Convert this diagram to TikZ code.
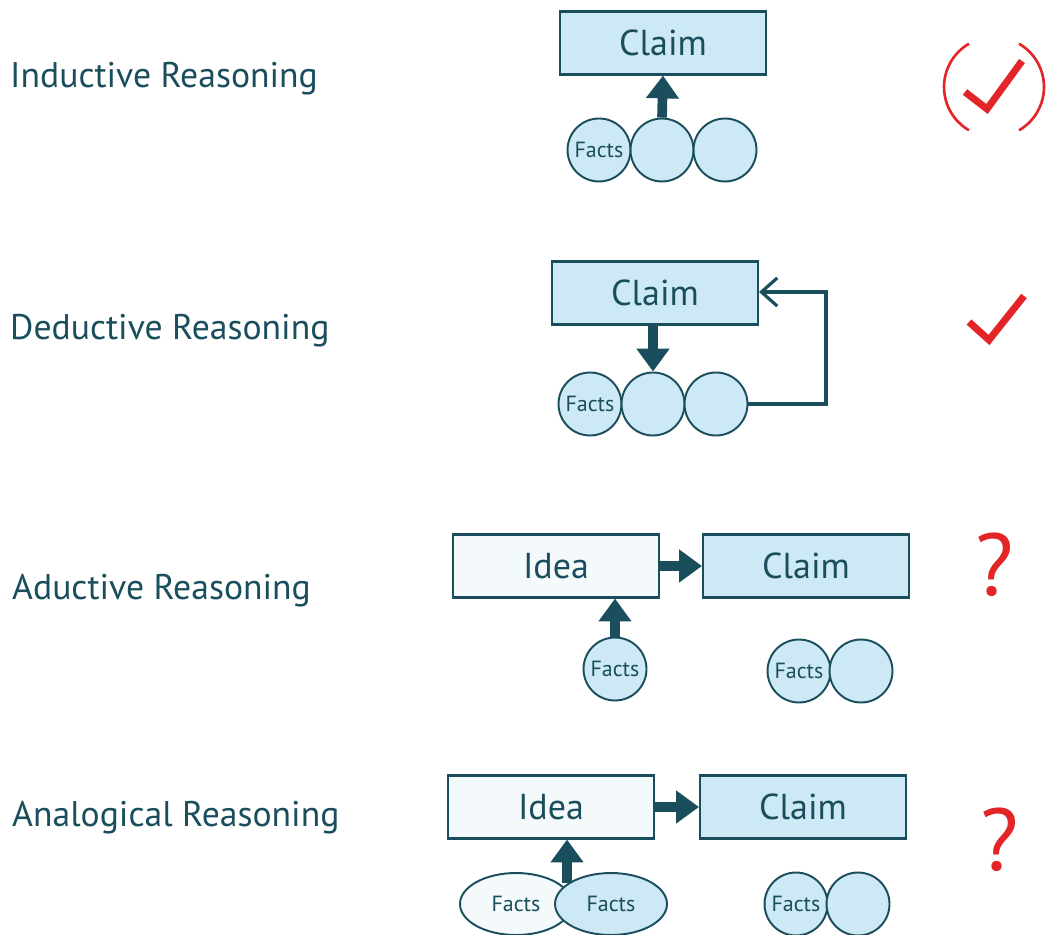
\documentclass[tikz,border=0pt]{standalone}
\usepackage{fontspec}
\setmainfont{PT Sans}
\usepackage{tikz}
\usetikzlibrary{arrows.meta,shapes.geometric}
\definecolor{ink}{HTML}{1A4E5C}
\definecolor{pale}{HTML}{CDE9F5}
\definecolor{paler}{HTML}{F4FAFC}
\definecolor{tickred}{HTML}{E42528}
\tikzset{
  lbl/.style={anchor=west,text=ink,font=\fontsize{20.3}{22}\selectfont},
  box/.style={draw=ink,line width=1.2pt,fill=pale,text=ink,minimum width=4.12cm,minimum height=1.26cm,inner sep=0pt,font=\fontsize{20.5}{22}\selectfont},
  ideabox/.style={box,fill=paler},
  fact/.style={circle,draw=ink,line width=1.1pt,fill=pale,text=ink,minimum size=1.26cm,inner sep=0pt,font=\fontsize{12.5}{14}\selectfont},
  oval/.style={ellipse,draw=ink,line width=1.1pt,fill=pale,text=ink,minimum width=2.24cm,minimum height=1.24cm,inner sep=0pt,font=\fontsize{12.5}{14}\selectfont},
  fat/.style={ink,line width=5.5pt,-{Triangle[length=13pt,width=18pt]}},
  loopback/.style={ink,line width=1.8pt,-{Straight Barb[length=9pt,width=16pt,line width=1.8pt]}},
  tick/.style={tickred,line width=4pt},
  query/.style={text=tickred,font=\fontsize{50}{54}\selectfont}
}
\begin{document}
\begin{tikzpicture}[x=0.02cm,y=-0.02cm]
  \useasboundingbox[fill=white] (0,0) rectangle (1050,935);

  \node[lbl] (ind) at (4,79) {Inductive Reasoning};
  \node[box] (claimA) at (663,43) {Claim};
  \node[fact] (fA1) at (599,150) {Facts};
  \node[fact] (fA2) at (662,150) {};
  \node[fact] (fA3) at (725,150) {};
  \draw[fat] (fA2.north) -- (claimA.south);
  \draw[tickred,line width=1.5pt] (994,87) ++(120:50) arc (120:240:50);
  \draw[tickred,line width=1.5pt] (994,87) ++(-60:50) arc (-60:60:50);
  \draw[tick] (965,92) -- (987,109) -- (1022,61);

  \node[lbl] (ded) at (4,331) {Deductive Reasoning};
  \node[box] (claimB) at (655,293) {Claim};
  \node[fact] (fB1) at (590,404) {Facts};
  \node[fact] (fB2) at (653,404) {};
  \node[fact] (fB3) at (716,404) {};
  \draw[fat] (claimB.south -| fB2) -- (fB2.north);
  \coordinate (turnB) at (826,292);
  \draw[loopback] (fB3.east) -| (turnB) -- (claimB.east |- turnB);
  \draw[tick] (969,322) -- (989,340) -- (1024,296);

  \node[lbl] (adu) at (6,591) {Aductive Reasoning};
  \node[ideabox] (ideaC) at (556,566) {Idea};
  \node[box] (claimC) at (806,566) {Claim};
  \node[fact] (fC0) at (615,669) {Facts};
  \node[fact] (fC1) at (799,671) {Facts};
  \node[fact] (fC2) at (861,671) {};
  \draw[fat] (ideaC.east) -- (claimC.west);
  \draw[fat] (fC0.north) -- (fC0 |- ideaC.south);
  \node[query] (qC) at (995,565) {?};

  \node[lbl] (ana) at (6,818) {Analogical Reasoning};
  \node[ideabox] (ideaD) at (551,807) {Idea};
  \node[box] (claimD) at (803,807) {Claim};
  \node[oval,fill=paler] (oD1) at (516,904) {Facts};
  \node[oval] (oD2) at (611,904) {Facts};
  \node[fact] (fD1) at (796,904) {Facts};
  \node[fact] (fD2) at (858,904) {};
  \coordinate (meetD) at (567,883);
  \draw[fat] (ideaD.east) -- (claimD.west);
  \draw[fat] (meetD) -- (meetD |- ideaD.south);
  \node[query] (qD) at (1000,840) {?};
\end{tikzpicture}
\end{document}
